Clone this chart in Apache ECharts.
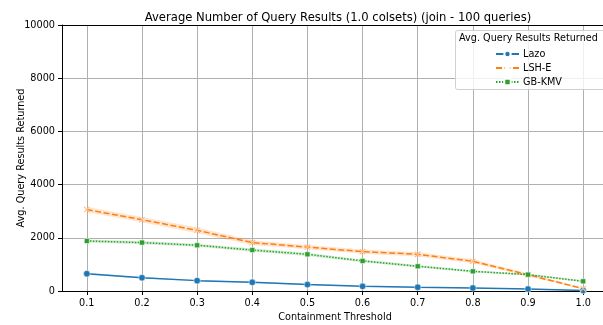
<!DOCTYPE html>
<html>
<head>
<meta charset="utf-8">
<script src="https://cdn.jsdelivr.net/npm/echarts@6/dist/echarts.min.js"></script>
<style>
html,body{margin:0;padding:0;background:#fff;}
#chart{width:603px;height:325px;}
</style>
</head>
<body>
<div id="chart"></div>
<script>
// Containment thresholds on the x axis
const thresholds = [0.1, 0.2, 0.3, 0.4, 0.5, 0.6, 0.7, 0.8, 0.9, 1.0];
// Mean number of results returned per method
const lazo  = [650, 500, 390, 325, 240, 175, 140, 113, 75, 20];
const lshE  = [3060, 2680, 2280, 1820, 1650, 1480, 1380, 1115, 610, 90];
const gbKmv = [1880, 1820, 1720, 1540, 1380, 1130, 930, 740, 615, 365];
// Confidence interval bounds
const lazoLow  = [610, 470, 365, 300, 220, 160, 125, 100, 65, 12];
const lazoHigh = [690, 530, 415, 350, 260, 190, 155, 126, 85, 28];
const lshELow  = [2960, 2580, 2170, 1730, 1570, 1400, 1300, 1040, 550, 60];
const lshEHigh = [3160, 2780, 2390, 1910, 1730, 1560, 1460, 1190, 670, 120];
const gbKmvLow  = [1820, 1760, 1660, 1480, 1320, 1080, 880, 700, 580, 330];
const gbKmvHigh = [1940, 1880, 1780, 1600, 1440, 1180, 980, 780, 650, 400];

const pairs = arr => thresholds.map((t, i) => [t, arr[i]]);

const C_LAZO = '#1f77b4', C_LSH = '#ff7f0e', C_GB = '#2ca02c';
const xMark = 'path://M1,0 L5,4 L9,0 L10,1 L6,5 L10,9 L9,10 L5,6 L1,10 L0,9 L4,5 L0,1 Z';
const FS = 9.7;

// Shaded confidence band drawn as one polygon through the axis scales
function band(lo, hi, color) {
  const data = thresholds.map((t, i) => [t, lo[i], hi[i]]);
  return {
    type: 'custom', silent: true, z: 1, data: data,
    encode: {x: 0, y: [1, 2]},
    renderItem: function (params, api) {
      if (params.dataIndex !== 0) return null;
      const top = data.map(d => api.coord([d[0], d[2]]));
      const bot = data.map(d => api.coord([d[0], d[1]])).reverse();
      return {
        type: 'polygon',
        shape: {points: top.concat(bot)},
        style: {fill: color, opacity: 0.2}
      };
    }
  };
}

const chart = echarts.init(document.getElementById('chart'), null, {renderer: 'canvas'});
const font = 'DejaVu Sans';
chart.setOption({
  animation: false,
  backgroundColor: '#fff',
  textStyle: {fontFamily: font},
  title: {
    text: 'Average Number of Query Results (1.0 colsets) (join - 100 queries)',
    left: 333, top: 7, textAlign: 'center',
    textStyle: {fontFamily: font, fontSize: 11.6, fontWeight: 'normal', color: '#000'}
  },
  grid: {left: 62, top: 25, width: 546, height: 266, containLabel: false, outerBoundsMode: 'none'},
  legend: {
    data: ['Lazo', 'LSH-E', 'GB-KMV'],
    orient: 'vertical', left: 490, top: 44, itemGap: 4, z: 200,
    itemWidth: 23, itemHeight: 8,
    textStyle: {fontFamily: font, fontSize: FS, color: '#000', padding: [0, 0, 0, -1]}
  },
  graphic: [
    {type: 'rect', shape: {x: 455.5, y: 30.5, width: 150, height: 59, r: 2},
     style: {fill: 'rgba(255,255,255,0.8)', stroke: '#d0d0d0', lineWidth: 1}, z: 100},
    {type: 'text', left: 459, top: 33, z: 101,
     style: {text: 'Avg. Query Results Returned', font: FS + 'px DejaVu Sans', fill: '#000'}},
    {type: 'line', shape: {x1: 62, y1: 25.5, x2: 603, y2: 25.5},
     style: {stroke: '#000', lineWidth: 1}, z: 50}
  ],
  xAxis: {
    type: 'value', min: 0.055, max: 1.045,
    name: 'Containment Threshold', nameLocation: 'middle', nameGap: 21,
    nameTextStyle: {fontFamily: font, fontSize: FS, color: '#000'},
    axisLine: {show: true, lineStyle: {color: '#000', width: 1}},
    axisTick: {show: true, length: 4, lineStyle: {color: '#000'}, customValues: thresholds},
    axisLabel: {fontFamily: font, fontSize: FS, color: '#000', margin: 7,
      customValues: thresholds, formatter: v => v.toFixed(1)},
    splitLine: {show: true, lineStyle: {color: '#b0b0b0', width: 1}}
  },
  yAxis: {
    type: 'value', min: 0, max: 10000, interval: 2000,
    name: 'Avg. Query Results Returned', nameLocation: 'middle', nameGap: 36,
    nameMoveOverlap: false,
    nameTextStyle: {fontFamily: font, fontSize: FS, color: '#000'},
    axisLine: {show: true, lineStyle: {color: '#000', width: 1}},
    axisTick: {show: true, length: 4, lineStyle: {color: '#000'}},
    axisLabel: {fontFamily: font, fontSize: FS, color: '#000', margin: 7,
      formatter: v => String(v)},
    splitLine: {show: true, lineStyle: {color: '#b0b0b0', width: 1}}
  },
  series: [
    band(lazoLow, lazoHigh, C_LAZO),
    band(lshELow, lshEHigh, C_LSH),
    band(gbKmvLow, gbKmvHigh, C_GB),
    {type: 'line', name: 'Lazo', data: pairs(lazo), color: C_LAZO,
     symbol: 'circle', symbolSize: 6.5,
     lineStyle: {width: 1.5, type: 'solid'},
     itemStyle: {color: C_LAZO, borderColor: '#fff', borderWidth: 0.5}, z: 3},
    {type: 'line', name: 'LSH-E', data: pairs(lshE), color: C_LSH,
     symbol: xMark, symbolSize: 6,
     lineStyle: {width: 1.5, type: [6, 2.5]},
     itemStyle: {color: C_LSH, borderColor: '#fff', borderWidth: 0.5}, z: 3},
    {type: 'line', name: 'GB-KMV', data: pairs(gbKmv), color: C_GB,
     symbol: 'rect', symbolSize: 5,
     lineStyle: {width: 1.5, type: [1.5, 1.5]},
     itemStyle: {color: C_GB, borderColor: '#fff', borderWidth: 0.5}, z: 3}
  ]
});
</script>
</body>
</html>
